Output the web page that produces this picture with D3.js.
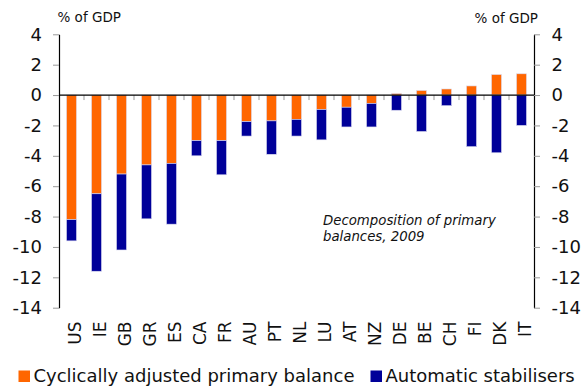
<!DOCTYPE html>
<html>
<head>
<meta charset="utf-8">
<script src="https://cdn.jsdelivr.net/npm/d3@7/dist/d3.min.js"></script>
<style>
  html, body { margin: 0; padding: 0; background: #fff; }
  svg { display: block; font-family: "DejaVu Sans", Verdana, sans-serif; }
</style>
</head>
<body>
<svg id="chart" width="582" height="387"></svg>
<script>
// Primary balance decomposition, 2009 (% of GDP)
const countries = ["US","IE","GB","GR","ES","CA","FR","AU","PT","NL","LU","AT","NZ","DE","BE","CH","FI","DK","IT"];
const cyclicallyAdjusted = [-8.2,-6.5,-5.2,-4.6,-4.5,-3.0,-3.0,-1.75,-1.7,-1.6,-0.95,-0.8,-0.55,0.1,0.3,0.4,0.6,1.35,1.4];
const automaticStabilisers = [-1.4,-5.1,-5.0,-3.55,-4.0,-1.0,-2.25,-0.95,-2.2,-1.1,-2.0,-1.3,-1.55,-1.0,-2.4,-0.7,-3.4,-3.8,-2.0];
const yTicks = [4,2,0,-2,-4,-6,-8,-10,-12,-14];
const seriesNames = ["Cyclically adjusted primary balance", "Automatic stabilisers"];
const seriesColors = ["#ff6600", "#000099"];

const svg = d3.select("#chart");
const plotLeft = 59, plotRight = 534, plotTop = 34.3, plotBottom = 307.7;

const x = d3.scaleBand().domain(countries).range([plotLeft, plotRight]).paddingInner(0.6).paddingOuter(0.3);
const y = d3.scaleLinear().domain([-14, 4]).range([plotBottom, plotTop]);

// Stack segments: positives grow up from zero, negatives grow down
const segments = [];
countries.forEach((c, i) => {
  let pos = 0, neg = 0;
  [cyclicallyAdjusted[i], automaticStabilisers[i]].forEach((v, s) => {
    let y0, y1;
    if (v >= 0) { y0 = pos; y1 = pos + v; pos = y1; }
    else { y0 = neg; y1 = neg + v; neg = y1; }
    segments.push({ c, s, y0, y1 });
  });
});

svg.append("g").selectAll("rect").data(segments).join("rect")
  .attr("x", d => x(d.c))
  .attr("width", x.bandwidth())
  .attr("y", d => y(Math.max(d.y0, d.y1)))
  .attr("height", d => Math.abs(y(d.y0) - y(d.y1)))
  .attr("fill", d => seriesColors[d.s])
  .attr("stroke", "#dcdcf0")
  .attr("stroke-width", 0.6);

// Zero line with category separators
const step = x.step();
const sepX = d3.range(1, countries.length).map(i => plotLeft + i * step);
svg.append("g").selectAll("line").data(sepX).join("line")
  .attr("x1", d => d).attr("x2", d => d)
  .attr("y1", y(0)).attr("y2", y(0) + 5)
  .attr("stroke", "#999").attr("stroke-width", 1);
svg.append("line")
  .attr("x1", plotLeft).attr("x2", plotRight)
  .attr("y1", y(0)).attr("y2", y(0))
  .attr("stroke", "#000").attr("stroke-width", 1.2);

// Value axes on both sides (plain hyphen for negatives)
const tickFmt = d => String(d);
function styleAxis(g) {
  g.select(".domain").attr("stroke", "#000").attr("stroke-width", 1.2);
  g.selectAll(".tick line").attr("stroke", "#999");
  g.selectAll(".tick text").attr("fill", "#111").style("font-size", "18px")
    .style("font-family", "'DejaVu Sans', Verdana, sans-serif");
}
svg.append("g").attr("transform", `translate(${plotLeft},0)`)
  .call(d3.axisLeft(y).tickValues(yTicks).tickFormat(tickFmt).tickSize(6).tickSizeOuter(0).tickPadding(11))
  .call(styleAxis);
svg.append("g").attr("transform", `translate(${plotRight},0)`)
  .call(d3.axisRight(y).tickValues(yTicks).tickFormat(tickFmt).tickSize(6).tickSizeOuter(0).tickPadding(11.5))
  .call(styleAxis);

// Category labels, rotated
svg.append("g").selectAll("text").data(countries).join("text")
  .attr("transform", d => `translate(${x(d) + x.bandwidth() / 2 + 4},321.5) rotate(-90)`)
  .attr("text-anchor", "end")
  .attr("dy", "0.35em")
  .style("font-size", "17px")
  .attr("fill", "#111")
  .text(d => d);

// Unit labels
svg.append("text").attr("x", 57.5).attr("y", 21.5)
  .style("font-size", "13.5px").attr("fill", "#111").text("% of GDP");
svg.append("text").attr("x", 538).attr("y", 22.5).attr("text-anchor", "end")
  .style("font-size", "13.5px").attr("fill", "#111").text("% of GDP");

// Chart note
const note = svg.append("text").attr("x", 323).attr("y", 225)
  .style("font-size", "13.3px").style("font-style", "italic").attr("fill", "#111");
note.append("tspan").attr("x", 323).text("Decomposition of primary");
note.append("tspan").attr("x", 323).attr("dy", 15.5).text("balances, 2009");

// Legend
const legendItems = [
  { name: seriesNames[0], color: seriesColors[0], x: 18.5 },
  { name: seriesNames[1], color: seriesColors[1], x: 370.5 }
];
const lg = svg.append("g").selectAll("g").data(legendItems).join("g");
lg.append("rect").attr("x", d => d.x).attr("y", 370.5).attr("width", 11.5).attr("height", 11.5)
  .attr("fill", d => d.color);
lg.append("text").attr("x", d => d.x + 15).attr("y", 382)
  .style("font-size", "18px").attr("fill", "#111").text(d => d.name);
</script>
</body>
</html>
